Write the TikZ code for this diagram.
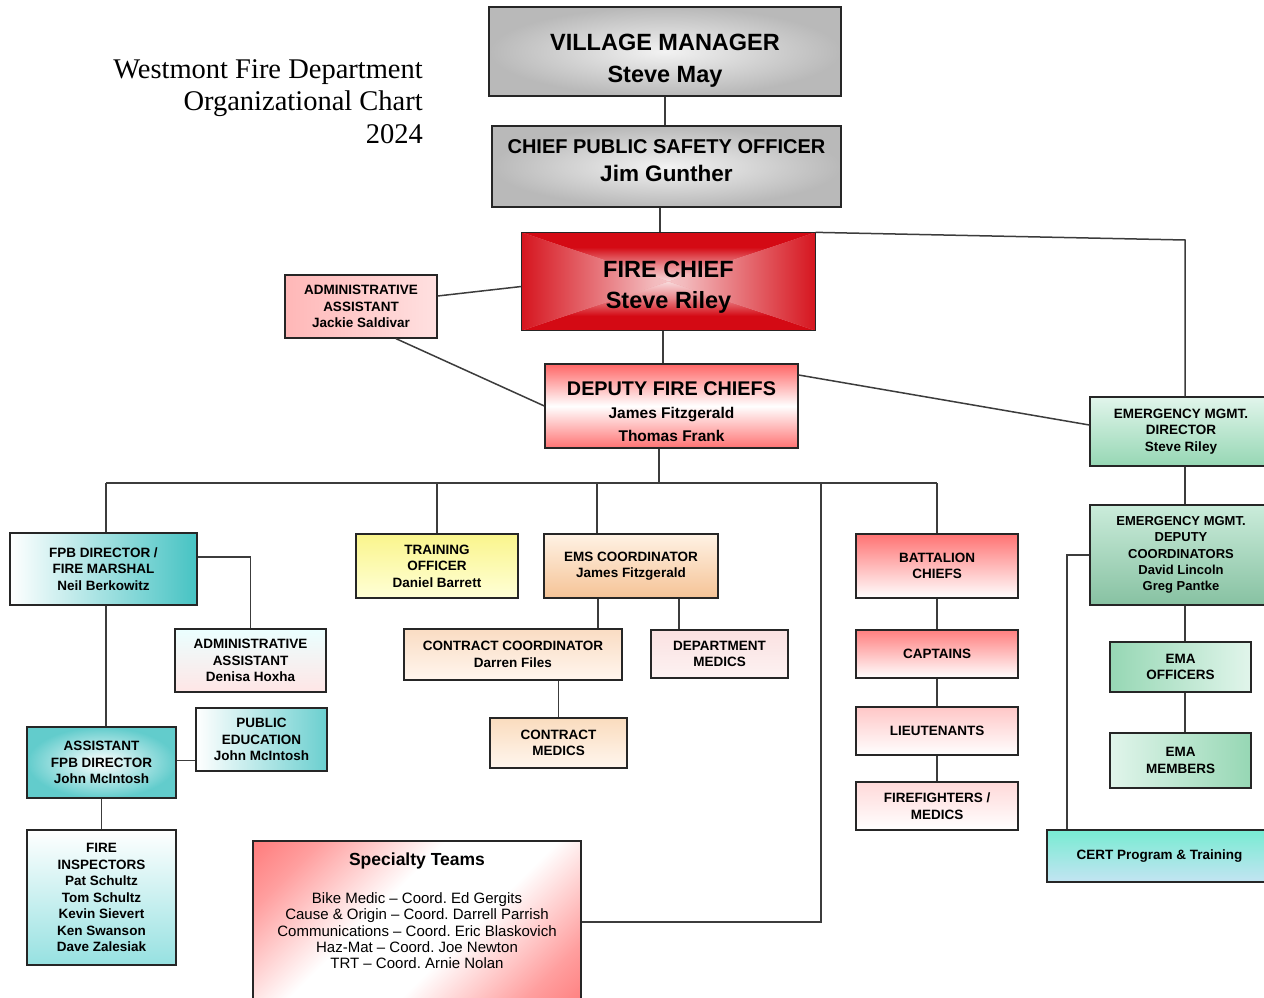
\documentclass[tikz,border=0pt]{standalone}
\usepackage{fontspec}
\setmainfont{Liberation Sans}
\newfontfamily\titlefont{Liberation Serif}
\usetikzlibrary{calc}
\frenchspacing
\definecolor{lnc}{RGB}{60,60,60}
\definecolor{tealc}{RGB}{70,195,195}
\definecolor{redc}{RGB}{212,10,20}
\definecolor{grn}{RGB}{150,215,180}
\definecolor{grnl}{RGB}{225,245,235}
\pgfdeclareverticalshading{edgev}{100bp}{color(0bp)=(white!92!redc); color(30bp)=(white!72!redc); color(78bp)=(redc); color(100bp)=(redc)}
\pgfdeclareverticalshading{edgevv}{100bp}{color(0bp)=(white!88!redc); color(25bp)=(white!85!redc); color(42bp)=(white!50!redc); color(60bp)=(redc); color(100bp)=(redc)}
\pgfdeclareverticalshading{stv}{100bp}{color(0bp)=(red!72); color(24bp)=(red!38); color(42bp)=(white); color(58bp)=(white); color(76bp)=(red!38); color(100bp)=(red!72)}
\tikzset{
  box/.style={draw=black!85, line width=1.3pt, align=center, inner sep=0pt,
    font=\bfseries\fontsize{13.5}{16.5}\selectfont},
  txt/.style={align=center, inner sep=0pt},
  conn/.style={draw=lnc, line width=1.5pt},
}
\begin{document}
\begin{tikzpicture}[x=1pt,y=-1pt]
\useasboundingbox (0,0) rectangle (1264,998);
\fill[white] (0,0) rectangle (1264,998);

% title
\node[anchor=north east, align=right, inner sep=0pt,
  font=\titlefont\fontsize{28.5}{32.8}\selectfont] (title) at (423,59)
  {Westmont Fire Department\\Organizational Chart\\2024};

% top
\node[box, minimum width=352, minimum height=89, inner color=gray!10, outer color=gray!55] (vm) at (665,51.5) {};
\node[txt, font=\bfseries\fontsize{23.5}{32}\selectfont] (vmt) at (665,61) {VILLAGE MANAGER\\Steve May};
\node[box, minimum width=349, minimum height=81, inner color=gray!10, outer color=gray!55] (cpso) at (666.5,166.5) {};
\node[txt, font=\bfseries\fontsize{20}{28}\selectfont] (cpsot) at (666.5,160.5)
  {CHIEF PUBLIC SAFETY OFFICER\\{\fontsize{22.5}{28}\selectfont Jim Gunther}};

% fire chief: rectangular gradient from the centre
\node[box, draw=none, fill=white!60!redc, minimum width=293, minimum height=97] (fc) at (668.5,281.5) {};
\begin{scope}
  \clip (fc.north west) -- (fc.north east) -- (fc.center) -- cycle;
  \shade[shading=edgevv] (fc.north west) rectangle (fc.center -| fc.east);
\end{scope}
\begin{scope}
  \clip (fc.south west) -- (fc.south east) -- (fc.center) -- cycle;
  \shade[shading=edgevv, shading angle=180] (fc.west) rectangle (fc.south east);
\end{scope}
\begin{scope}
  \clip (fc.north west) -- (fc.south west) -- (fc.center) -- cycle;
  \shade[shading=edgev, shading angle=90] (fc.north west) rectangle (fc.south);
\end{scope}
\begin{scope}
  \clip (fc.north east) -- (fc.south east) -- (fc.center) -- cycle;
  \shade[shading=edgev, shading angle=-90] (fc.north) rectangle (fc.south east);
\end{scope}
\draw[draw=black!85, line width=1.3pt] (fc.north west) rectangle (fc.south east);
\node[txt, font=\bfseries\fontsize{23.5}{31}\selectfont] (fct) at (668.5,287.5) {FIRE CHIEF\\Steve Riley};

\node[box, minimum width=152, minimum height=63, left color=red!28, right color=red!12]
  (aa1) at (361,306.5) {ADMINISTRATIVE\\ASSISTANT\\Jackie Saldivar};
\node[box, minimum width=253, minimum height=84, top color=red!60, bottom color=red!55, middle color=white] (dep) at (671.5,406) {};
\node[txt, font=\bfseries\fontsize{15.5}{23}\selectfont] (dept) at (671.5,412)
  {{\fontsize{19.8}{23}\selectfont DEPUTY FIRE CHIEFS}\\James Fitzgerald\\Thomas Frank};

% emergency management
\node[box, minimum width=182, minimum height=69, top color=grnl, bottom color=grn]
  (emd) at (1181,431.5) {EMERGENCY MGMT.\\DIRECTOR\\Steve Riley};
\node[box, minimum width=182, minimum height=100, top color=grnl!70!grn, bottom color=grn!90!black,
  font=\bfseries\fontsize{13}{16.3}\selectfont]
  (emdc) at (1181,555) {EMERGENCY MGMT.\\DEPUTY\\COORDINATORS\\David Lincoln\\Greg Pantke};
\node[box, minimum width=141, minimum height=50, left color=grn, right color=grnl]
  (emao) at (1180.5,667) {EMA\\OFFICERS};
\node[box, minimum width=141, minimum height=55, left color=grnl, right color=grn]
  (emam) at (1180.5,760.5) {EMA\\MEMBERS};
\node[box, minimum width=225, minimum height=52, top color={rgb,255:red,120;green,235;blue,210}, bottom color={rgb,255:red,195;green,228;blue,242}]
  (cert) at (1159.5,856) {CERT Program \& Training};

% fire prevention
\node[box, minimum width=187, minimum height=72, left color=white, right color=tealc]
  (fpb) at (103.5,569) {FPB DIRECTOR /\\FIRE MARSHAL\\Neil Berkowitz};
\node[box, minimum width=151, minimum height=63, top color=cyan!8, bottom color=red!10]
  (aa2) at (250.5,660.5) {ADMINISTRATIVE\\ASSISTANT\\Denisa Hoxha};
\node[box, minimum width=131, minimum height=63, left color=white, right color=tealc!80]
  (pe) at (261.5,739.5) {PUBLIC\\EDUCATION\\John McIntosh};
\node[box, minimum width=149, minimum height=71, inner color=white, outer color=tealc!85]
  (afpb) at (101.5,762.5) {ASSISTANT\\FPB DIRECTOR\\John McIntosh};
\node[box, minimum width=149, minimum height=135, top color=white, bottom color={rgb,255:red,150;green,225;blue,225}]
  (fi) at (101.5,897.5) {FIRE\\INSPECTORS\\Pat Schultz\\Tom Schultz\\Kevin Sievert\\Ken Swanson\\Dave Zalesiak};

% training / EMS
\node[box, minimum width=162, minimum height=64, top color={rgb,255:red,250;green,245;blue,140}, bottom color={rgb,255:red,255;green,255;blue,215}]
  (to) at (437,566) {TRAINING\\OFFICER\\Daniel Barrett};
\node[box, minimum width=174, minimum height=64, top color={rgb,255:red,255;green,242;blue,228}, bottom color={rgb,255:red,245;green,195;blue,150}]
  (ems) at (631,566) {EMS COORDINATOR\\James Fitzgerald};
\node[box, minimum width=218, minimum height=51, top color={rgb,255:red,250;green,220;blue,195}, bottom color={rgb,255:red,255;green,246;blue,238}]
  (cc) at (513,654.5) {CONTRACT COORDINATOR\\Darren Files};
\node[box, minimum width=137, minimum height=48, top color={rgb,255:red,250;green,225;blue,225}, bottom color={rgb,255:red,253;green,242;blue,242}]
  (dm) at (719.5,654) {DEPARTMENT\\MEDICS};
\node[box, minimum width=137, minimum height=50, top color={rgb,255:red,250;green,220;blue,190}, bottom color={rgb,255:red,255;green,246;blue,238}]
  (cm) at (558.5,743) {CONTRACT\\MEDICS};

% suppression
\node[box, minimum width=162, minimum height=64, top color=red!55, bottom color=white]
  (bc) at (937,566) {BATTALION\\CHIEFS};
\node[box, minimum width=162, minimum height=48, top color=red!50, bottom color=white]
  (cap) at (937,654) {CAPTAINS};
\node[box, minimum width=162, minimum height=48, top color=red!22, bottom color=white]
  (lt) at (937,731) {LIEUTENANTS};
\node[box, minimum width=162, minimum height=48, top color=red!15, bottom color=white]
  (ff) at (937,806) {FIREFIGHTERS /\\MEDICS};

% specialty teams
\node[box, minimum width=328, minimum height=170, shading=stv, shading angle=45]
  (st) at (417,926) {};
\node[txt, font=\fontsize{15}{16.4}\selectfont, anchor=north]
  (sttext) at (417,853)
  {{\bfseries\fontsize{17.5}{20}\selectfont Specialty Teams}\\[21pt]
   Bike Medic -- Coord. Ed Gergits\\
   Cause \& Origin -- Coord. Darrell Parrish\\
   Communications -- Coord. Eric Blaskovich\\
   Haz-Mat -- Coord. Joe Newton\\
   TRT -- Coord. Arnie Nolan};

% connectors
\draw[conn] (vm.south) -- (vm.south |- cpso.north);
\coordinate (c1) at ($(cpso.south)+(-6.5,0)$);
\draw[conn] (c1) -- (c1 |- fc.north);
\coordinate (k1) at (1185,240);
\draw[conn] (fc.north east) -- (k1) -- (k1 |- emd.north);
\draw[conn] ($(fc.west)+(0,5)$) -- ($(aa1.east)+(0,-10.5)$);
\draw[conn] ($(aa1.south)+(35,0)$) -- (dep.west);
\coordinate (c2) at ($(fc.south)+(-5.5,0)$);
\draw[conn] (c2) -- (c2 |- dep.north);
\draw[conn] ($(dep.east)+(0,-31)$) -- ($(emd.west)+(0,-6.5)$);

\coordinate (c3) at ($(dep.south)+(-12.5,0)$);
\coordinate (busL) at (106,483);
\coordinate (busR) at (937,483);
\coordinate (k2) at (821,483);
\draw[conn] (c3) -- (c3 |- busL);
\draw[conn] (busL) -- (busR);
\draw[conn] (busL) -- (busL |- fpb.north);
\draw[conn] (to.north |- busL) -- (to.north);
\coordinate (c4) at ($(ems.north)+(-34,0)$);
\draw[conn] (c4 |- busL) -- (c4);
\coordinate (k3) at (821,922);
\draw[conn] (k2) -- (k3) -- (k3 -| st.east);
\draw[conn] (busR) -- (bc.north);

\draw[conn] ($(fpb.east)+(0,-12)$) -| (aa2.north);
\coordinate (c5) at ($(fpb.south)+(2.5,0)$);
\draw[conn] (c5) -- (c5 |- afpb.north);
\draw[conn] ($(afpb.east)+(0,-2)$) -- ($(pe.west)+(0,21)$);
\draw[conn] (afpb.south) -- (fi.north);

\coordinate (c6) at ($(ems.south)+(-33,0)$);
\draw[conn] (c6) -- (c6 |- cc.north);
\coordinate (c7) at ($(ems.south)+(48,0)$);
\draw[conn] (c7) -- (c7 |- dm.north);
\draw[conn] (cm.north |- cc.south) -- (cm.north);

\draw[conn] (bc.south) -- (cap.north);
\draw[conn] (cap.south) -- (lt.north);
\draw[conn] (lt.south) -- (ff.north);

\coordinate (c8) at ($(emd.south)+(4,0)$);
\draw[conn] (c8) -- (c8 |- emdc.north);
\draw[conn] (c8 |- emdc.south) -- (c8 |- emao.north);
\draw[conn] (c8 |- emao.south) -- (c8 |- emam.north);
\coordinate (c9) at (1067,856);
\draw[conn] (emdc.west) -| (c9 |- cert.north);
\end{tikzpicture}
\end{document}
